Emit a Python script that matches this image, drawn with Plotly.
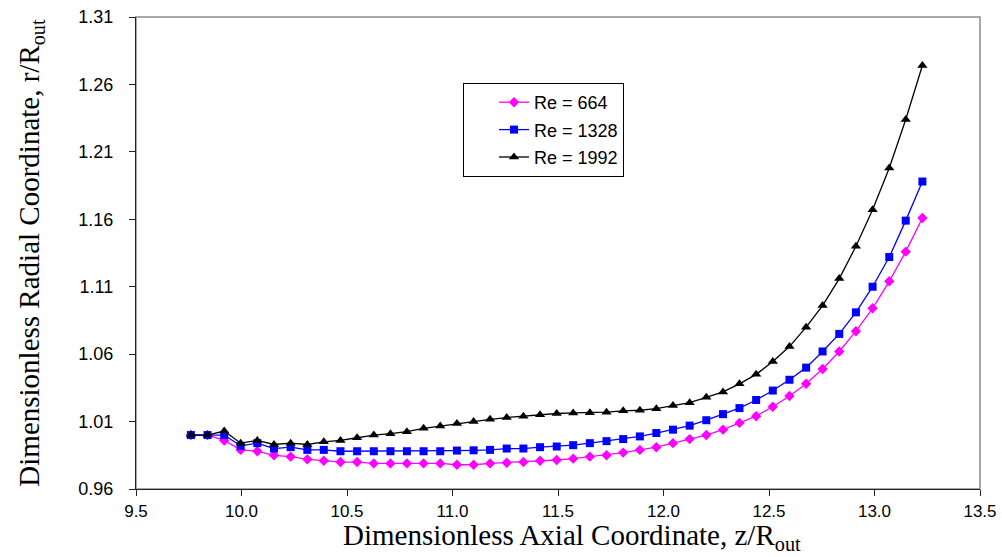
import plotly.graph_objects as go

# Axial coordinate z/R_out
z = [9.760, 9.839, 9.918, 9.996, 10.075, 10.154, 10.233, 10.312, 10.390, 10.469,
     10.548, 10.627, 10.706, 10.784, 10.863, 10.942, 11.021, 11.100, 11.178, 11.257,
     11.336, 11.415, 11.494, 11.572, 11.651, 11.730, 11.809, 11.888, 11.966, 12.045,
     12.124, 12.203, 12.282, 12.360, 12.439, 12.518, 12.597, 12.676, 12.754, 12.833,
     12.912, 12.991, 13.070, 13.148, 13.227]

re_664 = [1.000, 1.000, 0.996, 0.989, 0.988, 0.985, 0.984, 0.982, 0.981, 0.980,
          0.980, 0.979, 0.979, 0.979, 0.979, 0.979, 0.978, 0.978, 0.979, 0.9795,
          0.980, 0.981, 0.9815, 0.9825, 0.984, 0.985, 0.987, 0.989, 0.991, 0.994,
          0.997, 1.000, 1.004, 1.009, 1.014, 1.021, 1.029, 1.038, 1.049, 1.062,
          1.077, 1.094, 1.114, 1.136, 1.161]

re_1328 = [1.000, 1.000, 1.000, 0.992, 0.994, 0.990, 0.991, 0.989, 0.989, 0.988,
           0.988, 0.988, 0.988, 0.988, 0.988, 0.988, 0.9885, 0.9887, 0.989, 0.990,
           0.990, 0.991, 0.9915, 0.9925, 0.994, 0.9955, 0.997, 0.999, 1.0015, 1.004,
           1.007, 1.011, 1.0155, 1.020, 1.026, 1.033, 1.041, 1.050, 1.062, 1.075,
           1.091, 1.110, 1.132, 1.159, 1.188]

re_1992 = [1.000, 1.000, 1.003, 0.994, 0.996, 0.993, 0.994, 0.993, 0.995, 0.996,
           0.998, 1.000, 1.001, 1.0025, 1.005, 1.0067, 1.0085, 1.010, 1.0117, 1.013,
           1.014, 1.015, 1.016, 1.0164, 1.0166, 1.017, 1.018, 1.0184, 1.0196, 1.022,
           1.024, 1.028, 1.032, 1.038, 1.045, 1.0545, 1.0656, 1.080, 1.096, 1.116,
           1.140, 1.167, 1.198, 1.234, 1.274]

x_ticks = [9.5, 10.0, 10.5, 11.0, 11.5, 12.0, 12.5, 13.0, 13.5]
y_ticks = [0.96, 1.01, 1.06, 1.11, 1.16, 1.21, 1.26, 1.31]

series_names = ["Re = 664", "Re = 1328", "Re = 1992"]
x_title = "Dimensionless Axial Coordinate, z/R<sub>out</sub>"
y_title = "Dimensionless Radial Coordinate, r/R<sub>out</sub>"

SANS = "Liberation Sans, Arial, sans-serif"
SERIF = "Liberation Serif, Times New Roman, serif"

fig = go.Figure()
fig.add_trace(go.Scatter(
    x=z, y=re_664, mode="lines+markers", name=series_names[0], legendgroup="g1",
    line=dict(color="#FF00FF", width=1.3),
    marker=dict(symbol="diamond", size=8, color="#FF00FF")))
fig.add_trace(go.Scatter(
    x=z, y=re_1328, mode="lines+markers", name=series_names[1], legendgroup="g2",
    line=dict(color="#0000FF", width=1.3),
    marker=dict(symbol="square", size=8, color="#0000FF")))
fig.add_trace(go.Scatter(
    x=z, y=re_1992, mode="lines+markers", name=series_names[2], legendgroup="g3",
    line=dict(color="#000000", width=1.3),
    marker=dict(symbol="triangle-up", size=9, color="#000000")))

# gray plot-area border (top/right visible)
fig.add_shape(type="rect", xref="paper", yref="paper", x0=0, x1=1, y0=0, y1=1,
              line=dict(color="#8c8c8c", width=1.5), layer="below")

# x-axis title as annotation for precise placement
fig.add_annotation(text=x_title, xref="paper", yref="paper",
                   x=(572 - 136) / 844, y=(489 - 557) / 472,
                   xanchor="center", yanchor="bottom", showarrow=False,
                   font=dict(family=SERIF, size=29, color="black"))

fig.update_layout(
    width=1002, height=557,
    margin=dict(l=136, r=22, t=17, b=68),
    paper_bgcolor="white", plot_bgcolor="white",
    showlegend=True,
    legend=dict(
        x=(463 - 136) / 844, y=(489 - 83) / 472, xanchor="left", yanchor="top",
        bgcolor="white", bordercolor="black", borderwidth=1,
        font=dict(family=SANS, size=18, color="black"),
        tracegroupgap=1, indentation=30,
    ),
    xaxis=dict(
        range=[9.5, 13.5], tickvals=x_ticks, automargin=False,
        ticktext=[f"{v:.1f}" for v in x_ticks],
        showgrid=False, zeroline=False,
        showline=True, linecolor="#222222", linewidth=1.3,
        ticks="outside", ticklen=6, tickcolor="#222222", tickwidth=1,
        tickfont=dict(family=SANS, size=17, color="black"),
    ),
    yaxis=dict(
        range=[0.96, 1.31], tickvals=y_ticks, automargin=False,
        ticktext=[f"{v:.2f}" for v in y_ticks],
        showgrid=False, zeroline=False,
        showline=True, linecolor="#222222", linewidth=1.3,
        ticks="outside", ticklen=6, tickcolor="#222222", tickwidth=1,
        ticklabelstandoff=12,
        tickfont=dict(family=SANS, size=18, color="black"),
        title=dict(text=y_title,
                   font=dict(family=SERIF, size=29, color="black"), standoff=30),
    ),
)

fig.write_html("out.html")
